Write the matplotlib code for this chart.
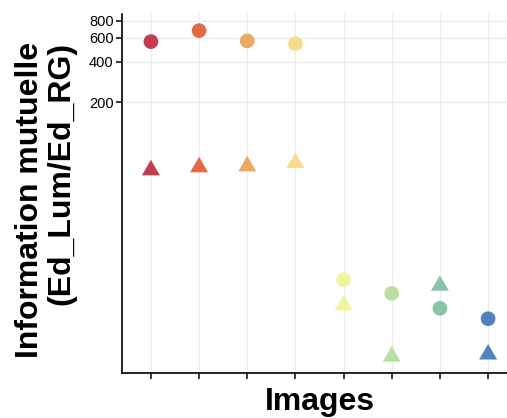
import numpy as np
import matplotlib
matplotlib.use("Agg")
import matplotlib.pyplot as plt
from matplotlib.path import Path

plt.rcParams['font.family'] = ['Liberation Sans', 'DejaVu Sans']

# data (log scale)
images = [1, 2, 3, 4, 5, 6, 7, 8]
circle_vals = [562, 678, 569, 543, 9.65, 7.64, 5.92, 4.96]
triangle_vals = [62.6, 66.0, 67.0, 70.9, 6.24, 2.6, 8.73, 2.7]
colors = ['#C23D52', '#DF6A44', '#EBAA62', '#F6DC8C',
          '#EEF59D', '#BADFA3', '#88C4A8', '#5083BE']
y_breaks = [200, 400, 600, 800]

# equilateral triangle centred on its centroid (like R pch 17)
tri = Path([(-1, -0.577), (1, -0.577), (0, 1.155), (-1, -0.577)],
           [Path.MOVETO, Path.LINETO, Path.LINETO, Path.CLOSEPOLY])

W, H = 507, 418
fig = plt.figure(figsize=(W / 100, H / 100), dpi=100)
# panel runs a bit past the right edge, as in the cropped original
ax = fig.add_axes([122 / W, 1 - 372.5 / H, (517 - 122) / W, (372.5 - 14.3) / H])

ax.set_yscale('log')
ax.set_xlim(0.4, 8.6)
ax.set_ylim(1.98, 896)

ax.scatter(images, circle_vals, s=112, c=colors, marker='o', linewidths=0, zorder=3)
ax.scatter(images, triangle_vals, s=224, c=colors, marker=tri, linewidths=0, zorder=3)

ax.set_xticks(images)
ax.set_xticklabels([])
ax.set_yticks(y_breaks)
ax.set_yticklabels([str(v) for v in y_breaks])
ax.minorticks_off()
ax.tick_params(axis='y', labelsize=10.5, length=4, width=1.1, pad=2, colors='black')
ax.tick_params(axis='x', length=4, width=1.1, colors='black')

ax.grid(True, color='#EBEBEB', linewidth=0.8, zorder=0)
ax.set_axisbelow(True)
for side in ['top', 'right']:
    ax.spines[side].set_visible(False)
for side in ['left', 'bottom']:
    ax.spines[side].set_linewidth(1.2)
    ax.spines[side].set_color('black')

fig.text(45.5 / W, 1 - 42 / H, 'Information mutuelle\n(Ed_Lum/Ed_RG)',
         rotation=90, ha='center', va='top', multialignment='right',
         fontsize=23, fontweight='bold', linespacing=1.05)
fig.text(320 / W, 1 - 410 / H, 'Images', ha='center', va='baseline',
         fontsize=23, fontweight='bold')

fig.savefig('out.png', dpi=100)
